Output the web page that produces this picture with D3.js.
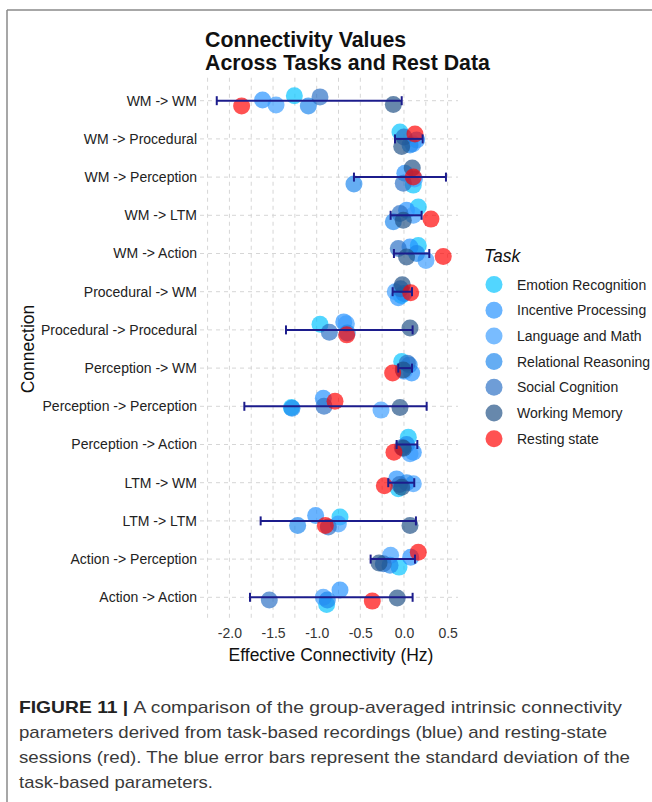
<!DOCTYPE html>
<html>
<head>
<meta charset="utf-8">
<script src="https://cdn.jsdelivr.net/npm/d3@7"></script>
<style>
  html, body { margin: 0; padding: 0; background: #fff; }
  svg { display: block; font-family: "Liberation Sans", Arial, Helvetica, sans-serif; }
</style>
</head>
<body>
<svg id="fig" width="652" height="802"></svg>
<script>
// Connections shown on the y axis, top to bottom
const connections = [
  "WM -> WM", "WM -> Procedural", "WM -> Perception", "WM -> LTM", "WM -> Action",
  "Procedural -> WM", "Procedural -> Procedural", "Perception -> WM",
  "Perception -> Perception", "Perception -> Action", "LTM -> WM", "LTM -> LTM",
  "Action -> Perception", "Action -> Action"
];

const tasks = [
  "Emotion Recognition", "Incentive Processing", "Language and Math",
  "Relational Reasoning", "Social Cognition", "Working Memory", "Resting state"
];

// Effective connectivity (Hz), one value per connection
const emotionRecognition  = [-1.256, -0.046, 0.107, 0.164, 0.164, -0.030, -0.962, -0.026, -1.290, 0.050, -0.065, -0.733, -0.057, -0.886];
const incentiveProcessing = [-1.620, 0.145, 0.010, 0.030, 0.069, -0.065, -0.690, 0.088, -0.924, 0.107, -0.084, -1.012, 0.077, -0.733];
const languageAndMath     = [-1.466, 0.100, 0.120, 0.107, 0.252, -0.100, -0.660, 0.000, -0.263, 0.069, 0.107, -0.752, -0.153, -0.924];
const relationalReasoning = [-1.096, 0.069, -0.573, -0.122, 0.145, 0.000, -0.650, 0.060, -1.283, 0.030, 0.030, -1.218, -0.160, -0.878];
const socialCognition     = [-0.962, 0.000, -0.008, -0.046, -0.065, -0.040, -0.855, 0.038, -0.916, -0.020, -0.050, -0.867, -0.237, -1.543];
const workingMemory       = [-0.122, -0.026, 0.095, -0.008, 0.030, -0.019, 0.069, -0.008, -0.046, -0.008, -0.026, 0.069, -0.286, -0.077];
const restingState        = [-1.860, 0.126, 0.107, 0.309, 0.450, 0.077, -0.656, -0.130, -0.790, -0.115, -0.225, -0.901, 0.164, -0.363];

// Vertical jitter of each point, as a fraction of the row spacing
const jitterER = [-0.13, -0.18, 0.21, -0.22, -0.21, 0.10, -0.15, -0.17, 0.03, -0.19, 0.16, -0.10, 0.21, 0.19];
const jitterIP = [-0.02, 0.03, -0.10, -0.13, -0.17, 0.16, -0.21, 0.13, -0.21, 0.20, -0.10, -0.14, -0.05, -0.19];
const jitterLM = [0.11, 0.13, 0.05, 0.00, 0.18, 0.00, -0.16, 0.08, 0.10, 0.24, 0.03, 0.08, -0.10, 0.00];
const jitterRR = [0.14, 0.16, 0.18, 0.17, 0.00, 0.05, 0.08, -0.08, 0.05, 0.00, 0.00, 0.12, 0.16, 0.07];
const jitterSC = [-0.10, -0.05, 0.16, -0.05, -0.13, -0.08, 0.06, -0.13, 0.00, 0.08, 0.05, 0.16, 0.12, 0.07];
const jitterWM = [0.10, 0.20, -0.24, 0.13, 0.09, -0.18, -0.05, 0.05, 0.03, 0.10, 0.12, 0.12, 0.10, 0.02];
const jitterRS = [0.14, -0.13, 0.00, 0.10, 0.08, 0.03, 0.13, 0.13, -0.13, 0.20, 0.08, 0.12, -0.18, 0.10];

// Spread of the task-based values (error bar ends)
const errLow  = [-2.145, -0.103, -0.573, -0.153, -0.115, -0.130, -1.352, -0.065, -1.829, -0.084, -0.180, -1.642, -0.382, -1.764];
const errHigh = [-0.026, 0.214, 0.481, 0.202, 0.290, 0.092, 0.099, 0.092, 0.260, 0.153, 0.118, 0.137, 0.126, 0.099];

const xTicks = [-2.0, -1.5, -1.0, -0.5, 0.0, 0.5];
const xGrid  = [-2.25, -2.0, -1.75, -1.5, -1.25, -1.0, -0.75, -0.5, -0.25, 0.0, 0.25, 0.5];

const seriesValues = [emotionRecognition, incentiveProcessing, languageAndMath,
  relationalReasoning, socialCognition, workingMemory, restingState];
const seriesJitter = [jitterER, jitterIP, jitterLM, jitterRR, jitterSC, jitterWM, jitterRS];
const colors = ["#00c2ff", "#2290ff", "#3a9cff", "#1c86ee", "#2a6fc4", "#1f4f85", "#ff0000"];

const svg = d3.select("#fig");

// figure frame
svg.append("line").attr("x1", 7).attr("x2", 7).attr("y1", 10).attr("y2", 802)
  .attr("stroke", "#8a8a8a").attr("stroke-width", 1.5);
svg.append("line").attr("x1", 7).attr("x2", 652).attr("y1", 10).attr("y2", 10)
  .attr("stroke", "#8a8a8a").attr("stroke-width", 1.5);

const x = d3.scaleLinear().domain([-2.337, 0.619]).range([200, 458]);
const y = d3.scalePoint().domain(connections).range([100.7, 597.3]);
const step = y.step();
const panelTop = y(connections[0]) - 0.6 * step;
const panelBottom = y(connections[connections.length - 1]) + 0.6 * step;

const grid = svg.append("g");
grid.selectAll("line.v").data(xGrid).join("line")
  .attr("x1", d => x(d)).attr("x2", d => x(d))
  .attr("y1", panelTop).attr("y2", panelBottom)
  .attr("stroke", "#d6d6d6").attr("stroke-width", 1).attr("stroke-dasharray", "4,4");
grid.selectAll("line.h").data(connections).join("line")
  .attr("x1", x.range()[0]).attr("x2", x.range()[1])
  .attr("y1", d => y(d)).attr("y2", d => y(d))
  .attr("stroke", "#d6d6d6").attr("stroke-width", 1).attr("stroke-dasharray", "4,4");

// points
const pts = [];
seriesValues.forEach((vals, s) => {
  vals.forEach((v, i) => pts.push({ s, v, c: connections[i], j: seriesJitter[s][i] }));
});
svg.append("g").selectAll("circle").data(pts).join("circle")
  .attr("cx", d => x(d.v))
  .attr("cy", d => y(d.c) + d.j * step)
  .attr("r", 8.5)
  .attr("fill", d => colors[d.s])
  .attr("fill-opacity", 0.68);

// error bars
const eb = svg.append("g").attr("stroke", "#1c1c8c").attr("stroke-width", 2);
connections.forEach((c, i) => {
  const yy = y(c);
  eb.append("line").attr("x1", x(errLow[i])).attr("x2", x(errHigh[i])).attr("y1", yy).attr("y2", yy);
  eb.append("line").attr("x1", x(errLow[i])).attr("x2", x(errLow[i])).attr("y1", yy - 4.5).attr("y2", yy + 4.5);
  eb.append("line").attr("x1", x(errHigh[i])).attr("x2", x(errHigh[i])).attr("y1", yy - 4.5).attr("y2", yy + 4.5);
});

// x axis
const xAxis = d3.axisBottom(x).tickValues(xTicks).tickSize(0).tickPadding(8)
  .tickFormat(d => d3.format(".1f")(d).replace("\u2212", "-"));
const gx = svg.append("g").attr("transform", `translate(0,${panelBottom})`).call(xAxis);
gx.select(".domain").remove();
gx.selectAll("text").attr("font-size", 14).attr("fill", "#333")
  .attr("font-family", "Liberation Sans, Arial, sans-serif");

// y axis
const yAxis = d3.axisLeft(y).tickSize(0).tickPadding(3);
const gy = svg.append("g").attr("transform", `translate(${x.range()[0]},0)`).call(yAxis);
gy.select(".domain").remove();
gy.selectAll("text").attr("font-size", 14).attr("fill", "#222")
  .attr("font-family", "Liberation Sans, Arial, sans-serif");

// axis titles
svg.append("text").attr("x", (x.range()[0] + x.range()[1]) / 2 + 2).attr("y", 661)
  .attr("text-anchor", "middle").attr("font-size", 17.5).attr("fill", "#111")
  .text("Effective Connectivity (Hz)");
svg.append("text").attr("transform", `translate(34,${(panelTop + panelBottom) / 2}) rotate(-90)`)
  .attr("text-anchor", "middle").attr("font-size", 17.5).attr("fill", "#111")
  .text("Connection");

// title
svg.append("text").attr("x", 205).attr("y", 47).attr("font-size", 21.3).attr("font-weight", "bold")
  .attr("fill", "#111").text("Connectivity Values");
svg.append("text").attr("x", 205).attr("y", 70).attr("font-size", 21.3).attr("font-weight", "bold")
  .attr("fill", "#111").text("Across Tasks and Rest Data");

// legend
const lg = svg.append("g");
lg.append("text").attr("x", 484).attr("y", 262).attr("font-size", 17.5).attr("font-style", "italic")
  .attr("fill", "#111").text("Task");
tasks.forEach((t, i) => {
  const cy = 284.5 + i * 25.7;
  lg.append("circle").attr("cx", 494).attr("cy", cy).attr("r", 8.5)
    .attr("fill", colors[i]).attr("fill-opacity", 0.68);
  lg.append("text").attr("x", 517).attr("y", cy + 5).attr("font-size", 14).attr("fill", "#222").text(t);
});

// caption
const capLines = [
  { y: 713, w: 603, parts: [["FIGURE 11 | ", true], ["A comparison of the group-averaged intrinsic connectivity", false]] },
  { y: 738, w: 588, parts: [["parameters derived from task-based recordings (blue) and resting-state", false]] },
  { y: 763, w: 611, parts: [["sessions (red). The blue error bars represent the standard deviation of the", false]] },
  { y: 788, w: 194, parts: [["task-based parameters.", false]] }
];
capLines.forEach(l => {
  const t = svg.append("text").attr("x", 19).attr("y", l.y).attr("font-size", 17).attr("fill", "#3a3a3a")
    .attr("textLength", l.w).attr("lengthAdjust", "spacingAndGlyphs");
  l.parts.forEach(p => {
    t.append("tspan").attr("font-weight", p[1] ? "bold" : "normal").attr("fill", p[1] ? "#222" : "#3a3a3a").text(p[0]);
  });
});
</script>
</body>
</html>
